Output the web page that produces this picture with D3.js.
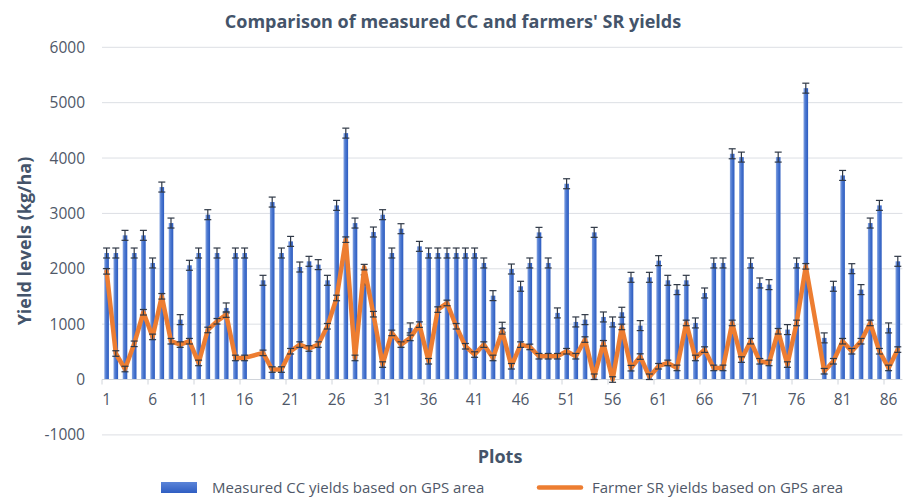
<!DOCTYPE html>
<html>
<head>
<meta charset="utf-8">
<script src="https://cdn.jsdelivr.net/npm/d3@7"></script>
<style>
  body { margin: 0; background: #fff; }
  text { font-family: "Open Sans", "Liberation Sans", sans-serif; }
</style>
</head>
<body>
<div class="chart"></div>
<script>
// plot numbers 1..87
var plots = d3.range(1, 88);

// measured CC yields (kg/ha), null = no data
var measuredCC = [2285, 2285, 2604, 2285, 2604, 2105, 3476, 2826, 1082, 2063,
  2285, 2977, 2285, 1293, 2285, 2285, null, 1792, 3205, 2285,
  2495, 2032, 2135, 2075, 1792, 3145, 4450, 2826, 1800, 2664,
  2977, 2285, 2724, 932, 2405, 2285, 2285, 2285, 2285, 2285,
  2285, 2105, 1515, 944, 1996, 1684, 2105, 2658, 2105, 1203,
  3536, 1040, 1082, 2658, 1130, 1040, 1215, 1846, 974, 1846,
  2147, 1792, 1624, 1792, 1022, 1563, 2105, 2105, 4077, 4017,
  2105, 1744, 1714, 4017, 902, 2105, 5262, null, 752, 1684,
  3686, 2002, 1624, 2826, 3145, 932, 2135];

// farmer SR yields (kg/ha)
var farmerSR = [1954, 470, 190, 645, 1215, 770, 1503, 692, 631, 692,
  300, 895, 1052, 1173, 390, 390, null, 481, 180, 180,
  511, 631, 560, 631, 962, 1473, 2526, 390, 2030, 1180,
  270, 842, 631, 752, 992, 330, 1263, 1383, 962, 601,
  451, 631, 390, 872, 240, 631, 589, 421, 421, 421,
  511, 421, 722, 50, 655, 0, 950, 205, 415, 50,
  240, 300, 210, 1022, 390, 541, 210, 210, 1022, 360,
  692, 330, 300, 872, 270, 1022, 2045, null, 150, 330,
  692, 511, 692, 1022, 511, 210, 541];

var yTicks = [-1000, 0, 1000, 2000, 3000, 4000, 5000, 6000];
var xTickLabels = [1, 6, 11, 16, 21, 26, 31, 36, 41, 46, 51, 56, 61, 66, 71, 76, 81, 86];

var ccError = 90;
var srError = 50;

var chartWidth = 906, chartHeight = 497;
var plotLeft = 102, plotRight = 902.4, plotTop = 47.3, plotBottom = 434.9;

var svg = d3.select(".chart").append("svg")
  .attr("width", chartWidth)
  .attr("height", chartHeight);

var defs = svg.append("defs");
var grad = defs.append("linearGradient").attr("id", "barGrad")
  .attr("x1", "0%").attr("x2", "100%").attr("y1", "0%").attr("y2", "0%");
grad.append("stop").attr("offset", "0%").attr("stop-color", "#84a3e2");
grad.append("stop").attr("offset", "45%").attr("stop-color", "#4a77d0");
grad.append("stop").attr("offset", "100%").attr("stop-color", "#2c5bbf");

var x = d3.scaleBand().domain(plots).range([plotLeft, plotRight]).paddingInner(0.5).paddingOuter(0.25);
var step = x.step();
var y = d3.scaleLinear().domain([-1000, 6000]).range([plotBottom, plotTop]);
var cx = function(p) { return x(p) + x.bandwidth() / 2; };

// gridlines
svg.append("g").selectAll("line")
  .data(yTicks.filter(function(d) { return d != 0; }))
  .enter().append("line")
  .attr("x1", plotLeft).attr("x2", plotRight)
  .attr("y1", function(d) { return y(d); }).attr("y2", function(d) { return y(d); })
  .attr("stroke", "#dcdfe4").attr("stroke-width", 1);

// y tick labels
svg.append("g").selectAll("text")
  .data(yTicks)
  .enter().append("text")
  .attr("x", 85)
  .attr("y", function(d) { return y(d) + 5.5; })
  .attr("text-anchor", "end")
  .attr("font-size", 15.5)
  .attr("fill", "#4f5868")
  .text(function(d) { return d; });

// bars
svg.append("g").selectAll("rect")
  .data(plots.filter(function(p, i) { return measuredCC[i] != null; }))
  .enter().append("rect")
  .attr("x", function(p) { return x(p); })
  .attr("y", function(p) { return y(measuredCC[p - 1]); })
  .attr("width", x.bandwidth())
  .attr("height", function(p) { return y(0) - y(measuredCC[p - 1]); })
  .attr("fill", "url(#barGrad)");

// x axis line and ticks between categories
svg.append("line")
  .attr("x1", plotLeft).attr("x2", plotRight)
  .attr("y1", y(0)).attr("y2", y(0))
  .attr("stroke", "#d0d4da").attr("stroke-width", 1);

svg.append("g").selectAll("line")
  .data(xTickLabels)
  .enter().append("line")
  .attr("x1", function(p) { return plotLeft + (p - 1) * step; })
  .attr("x2", function(p) { return plotLeft + (p - 1) * step; })
  .attr("y1", y(0)).attr("y2", y(0) + 5)
  .attr("stroke", "#d0d4da").attr("stroke-width", 1);

svg.append("g").selectAll("text")
  .data(xTickLabels)
  .enter().append("text")
  .attr("x", function(p) { return cx(p); })
  .attr("y", 405)
  .attr("text-anchor", "middle")
  .attr("font-size", 15.5)
  .attr("fill", "#4f5868")
  .text(function(d) { return d; });

function errorBars(values, err) {
  var g = svg.append("g").attr("stroke", "#2f3846").attr("stroke-width", 1.2);
  plots.forEach(function(p, i) {
    var v = values[i];
    if (v == null) return;
    var c = cx(p);
    g.append("line").attr("x1", c).attr("x2", c).attr("y1", y(v - err)).attr("y2", y(v + err));
    g.append("line").attr("x1", c - 3.5).attr("x2", c + 3.5).attr("y1", y(v - err)).attr("y2", y(v - err));
    g.append("line").attr("x1", c - 3.5).attr("x2", c + 3.5).attr("y1", y(v + err)).attr("y2", y(v + err));
  });
}

errorBars(measuredCC, ccError);

// farmer line (gaps bridged)
var linePts = plots.filter(function(p, i) { return farmerSR[i] != null; });
svg.append("path")
  .datum(linePts)
  .attr("fill", "none")
  .attr("stroke", "#ed7d31")
  .attr("stroke-width", 4.5)
  .attr("stroke-linejoin", "round")
  .attr("stroke-linecap", "round")
  .attr("d", d3.line()
    .x(function(p) { return cx(p); })
    .y(function(p) { return y(farmerSR[p - 1]); }));

errorBars(farmerSR, srError);

// titles
svg.append("text")
  .attr("x", 453).attr("y", 28)
  .attr("text-anchor", "middle")
  .attr("font-size", 18).attr("font-weight", "bold")
  .attr("fill", "#44546a")
  .text("Comparison of measured CC and farmers' SR yields");

svg.append("text")
  .attr("transform", "translate(31,241) rotate(-90)")
  .attr("text-anchor", "middle")
  .attr("font-size", 18).attr("font-weight", "bold")
  .attr("fill", "#44546a")
  .text("Yield levels (kg/ha)");

svg.append("text")
  .attr("x", 500).attr("y", 463)
  .attr("text-anchor", "middle")
  .attr("font-size", 18).attr("font-weight", "bold")
  .attr("fill", "#44546a")
  .text("Plots");

// legend
var legendGrad = defs.append("linearGradient").attr("id", "legGrad")
  .attr("x1", "0%").attr("x2", "0%").attr("y1", "0%").attr("y2", "100%");
legendGrad.append("stop").attr("offset", "0%").attr("stop-color", "#5b84d8");
legendGrad.append("stop").attr("offset", "100%").attr("stop-color", "#2f5ec2");

svg.append("rect")
  .attr("x", 161).attr("y", 482).attr("width", 36).attr("height", 11)
  .attr("fill", "url(#legGrad)");
svg.append("text")
  .attr("x", 212).attr("y", 493)
  .attr("font-size", 15).attr("fill", "#4f5868")
  .text("Measured CC yields based on GPS area");

svg.append("line")
  .attr("x1", 539).attr("x2", 581).attr("y1", 487.5).attr("y2", 487.5)
  .attr("stroke", "#ed7d31").attr("stroke-width", 4.5).attr("stroke-linecap", "round");
svg.append("text")
  .attr("x", 592).attr("y", 493)
  .attr("font-size", 15).attr("fill", "#4f5868")
  .text("Farmer SR yields based on GPS area");
</script>
</body>
</html>
